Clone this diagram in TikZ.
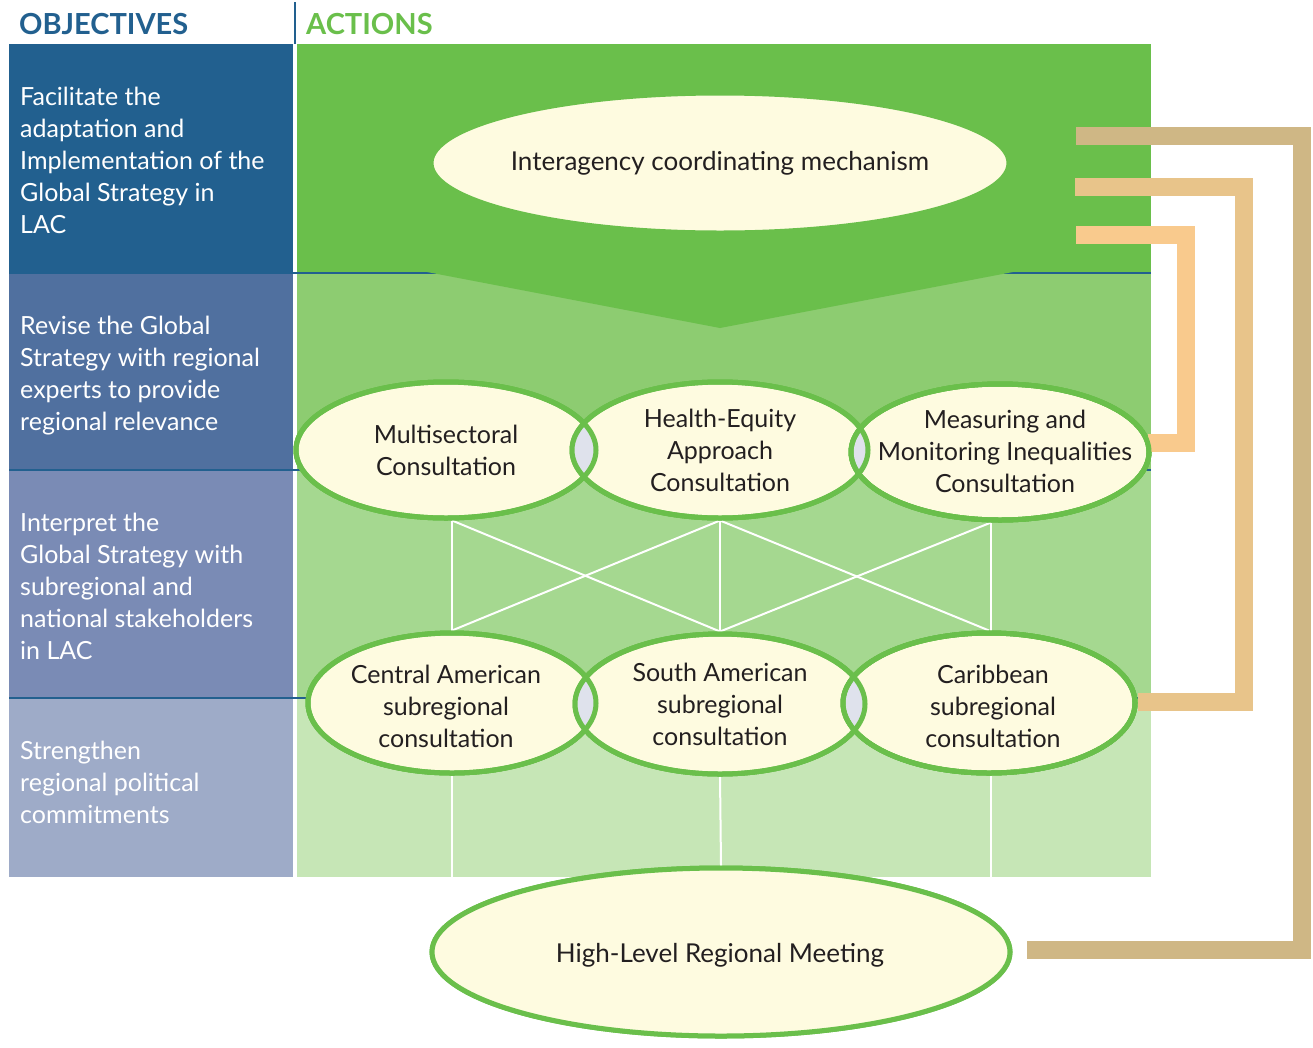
\documentclass[tikz,border=0pt]{standalone}
\usepackage{fontspec}
\setmainfont{Lato}
\usetikzlibrary{shapes.geometric}
\definecolor{objblue}{HTML}{22608F}
\definecolor{band2}{HTML}{50709F}
\definecolor{band3}{HTML}{7A8BB5}
\definecolor{band4}{HTML}{9EABC8}
\definecolor{gA}{HTML}{6ABF4B}
\definecolor{gB}{HTML}{8DCC71}
\definecolor{gC}{HTML}{A5D890}
\definecolor{gD}{HTML}{C6E6B6}
\definecolor{cream}{HTML}{FEFBE0}
\definecolor{lensc}{HTML}{DFE2EC}
\definecolor{txtc}{HTML}{231F20}
\definecolor{brA}{HTML}{CFB785}
\definecolor{brB}{HTML}{E8C48A}
\definecolor{brC}{HTML}{F9CA8D}
\tikzset{
  ell/.style={ellipse, fill=cream, draw=gA, line width=5pt, inner sep=0pt},
  etxt/.style={align=center, text=txtc, inner sep=0pt, font=\fontsize{25}{32}\selectfont},
  otxt/.style={align=left, text=white, inner sep=0pt, anchor=base west, font=\fontsize{25}{32}\selectfont},
  head/.style={inner sep=0pt, anchor=base west, font=\fontsize{29}{32}\selectfont\bfseries},
  wl/.style={draw=white, line width=2pt},
  sep/.style={draw=objblue, line width=2.5pt},
  bracket/.style={line width=18pt, line cap=butt, line join=miter}
}
\begin{document}
\begin{tikzpicture}[x=1pt,y=-1pt]
\useasboundingbox (0,0) rectangle (1313,1047);
% headers
\node[head, text=objblue] (h1) at (19,34) {OBJECTIVES};
\node[head, text=gA] (h2) at (306,34) {ACTIONS};
\draw[draw=objblue, line width=2pt] (295,2) -- (295,44);
% left bands
\fill[objblue] (9,44) rectangle (293,273);
\fill[band2] (9,273) rectangle (293,470);
\fill[band3] (9,470) rectangle (293,698);
\fill[band4] (9,698) rectangle (293,877);
% green bands
\fill[gA] (297,44) rectangle (1151,273);
\fill[gB] (297,273) rectangle (1151,470);
\fill[gC] (297,470) rectangle (1151,698);
\fill[gD] (297,698) rectangle (1151,877);
% separators
\draw[sep] (9,273) -- (1151,273);
\draw[sep] (9,470) -- (1151,470);
\draw[sep] (9,698) -- (1151,698);
\fill[gA] (427,272) -- (720,328) -- (1013,272) -- cycle;
% objective texts (anchored at baseline of last line)
\node[otxt] (o1) at (20,233) {Facilitate the\\adaptation and\\Implementation of the\\Global Strategy in\\LAC};
\node[otxt] (o2) at (20,430) {Revise the Global\\Strategy with regional\\experts to provide\\regional relevance};
\node[otxt] (o3) at (20,659) {Interpret the\\Global Strategy with\\subregional and\\national stakeholders\\in LAC};
\node[otxt] (o4) at (20,823) {Strengthen\\regional political\\commitments};
% ellipses (shapes)
\node[ell, minimum width=578pt, minimum height=140pt] (ia) at (720,163) {};
\node[ell, minimum width=300pt, minimum height=136pt] (m1) at (446,450) {};
\node[ell, minimum width=296pt, minimum height=136pt] (m2) at (720,450) {};
\node[ell, minimum width=298pt, minimum height=136pt] (m3) at (1000,452) {};
\node[ell, minimum width=288pt, minimum height=140pt] (c1) at (452,703) {};
\node[ell, minimum width=290pt, minimum height=140pt] (s2) at (720,704) {};
\node[ell, minimum width=292pt, minimum height=140pt] (c3) at (989,703) {};
\node[ell, minimum width=578pt, minimum height=168pt] (hl) at (721,952) {};
% white connectors
\coordinate (gb) at (720,877);
\draw[wl] ([xshift=6pt]m1.south) -- (c1.north);
\draw[wl] ([xshift=6pt]m1.south) -- (s2.north);
\draw[wl] (m2.south) -- (c1.north);
\draw[wl] (m2.south) -- (s2.north);
\draw[wl] (m2.south) -- (c3.north);
\draw[wl] ([xshift=-9pt]m3.south) -- (s2.north);
\draw[wl] ([xshift=-9pt]m3.south) -- ([xshift=2pt]c3.north);
\draw[wl] (c1.south) -- (c1.south |- gb);
\draw[wl] (s2.south) -- (hl.north);
\draw[wl] ([xshift=2pt]c3.south) -- ([xshift=2pt]c3.south |- gb);
% redraw ellipses over connectors
\node[ell, minimum width=300pt, minimum height=136pt] at (m1) {};
\node[ell, minimum width=296pt, minimum height=136pt] at (m2) {};
\node[ell, minimum width=298pt, minimum height=136pt] at (m3) {};
\node[ell, minimum width=288pt, minimum height=140pt] at (c1) {};
\node[ell, minimum width=290pt, minimum height=140pt] at (s2) {};
\node[ell, minimum width=292pt, minimum height=140pt] at (c3) {};
\node[ell, minimum width=578pt, minimum height=168pt] at (hl) {};
% lenses
\begin{scope}
  \clip (m1) ellipse [x radius=150pt, y radius=68pt];
  \fill[lensc] (m2) ellipse [x radius=148pt, y radius=68pt];
\end{scope}
\begin{scope}
  \clip (m2) ellipse [x radius=148pt, y radius=68pt];
  \fill[lensc] (m3) ellipse [x radius=149pt, y radius=68pt];
\end{scope}
\begin{scope}
  \clip (c1) ellipse [x radius=144pt, y radius=70pt];
  \fill[lensc] (s2) ellipse [x radius=145pt, y radius=70pt];
\end{scope}
\begin{scope}
  \clip (s2) ellipse [x radius=145pt, y radius=70pt];
  \fill[lensc] (c3) ellipse [x radius=146pt, y radius=70pt];
\end{scope}
\draw[draw=gA, line width=5pt] (m1) ellipse [x radius=150pt, y radius=68pt];
\draw[draw=gA, line width=5pt] (m2) ellipse [x radius=148pt, y radius=68pt];
\draw[draw=gA, line width=5pt] (m3) ellipse [x radius=149pt, y radius=68pt];
\draw[draw=gA, line width=5pt] (c1) ellipse [x radius=144pt, y radius=70pt];
\draw[draw=gA, line width=5pt] (s2) ellipse [x radius=145pt, y radius=70pt];
\draw[draw=gA, line width=5pt] (c3) ellipse [x radius=146pt, y radius=70pt];
% brackets
\coordinate (b1s) at (1076,136);
\coordinate (b1e) at (1027,950);
\coordinate (b2s) at (1075,187);
\coordinate (b3s) at (1076,235);
\coordinate (b3e) at (1148,443);
\draw[bracket, brA] (b1s) -- (1302,136) -- (1302,950) -- (b1e);
\draw[bracket, brB] (b2s) -- (1244,187) -- (1244,702) -- (c3.east |- 0,702);
\draw[bracket, brC] (b3s) -- (1186,235) -- (1186,443) -- (b3e);
\draw[draw=gA, line width=5pt] (m3) ellipse [x radius=149pt, y radius=68pt];
\draw[draw=gA, line width=5pt] (c3) ellipse [x radius=146pt, y radius=70pt];
% texts in ellipses
\node[etxt, font=\fontsize{26}{32}\selectfont] (iat) at (ia) {Interagency coordinating mechanism};
\node[etxt] (m1t) at (m1) {Multisectoral\\Consultation};
\node[etxt] (m2t) at (m2) {Health-Equity\\Approach\\Consultation};
\node[etxt] (m3t) at (1005,451) {Measuring and\\Monitoring Inequalities\\Consultation};
\node[etxt] (c1t) at (446,706) {Central American\\subregional\\consultation};
\node[etxt] (s2t) at (s2) {South American\\subregional\\consultation};
\node[etxt] (c3t) at (993,706) {Caribbean\\subregional\\consultation};
\node[etxt, font=\fontsize{26}{32}\selectfont] (hlt) at (720,955) {High-Level Regional Meeting};
\end{tikzpicture}
\end{document}
